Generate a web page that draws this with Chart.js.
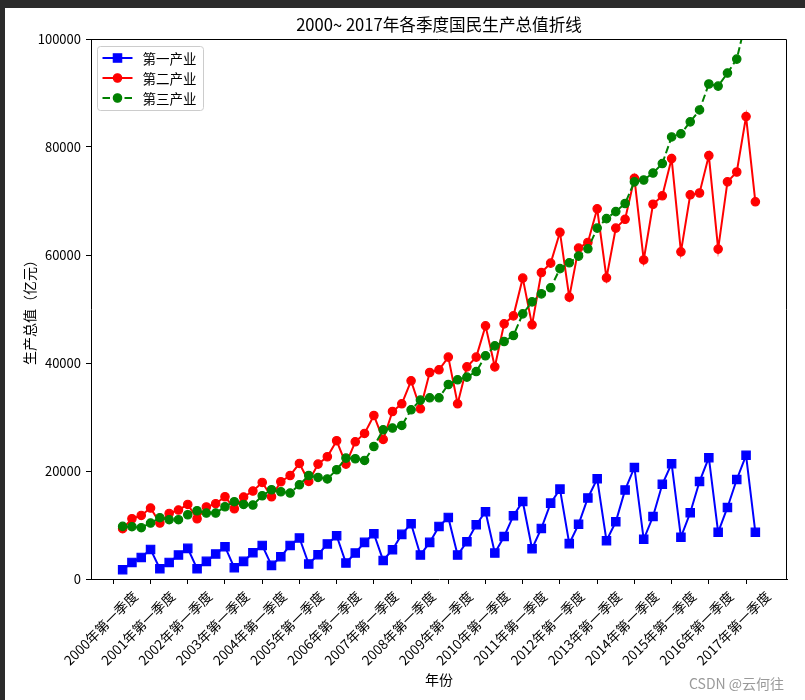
<!DOCTYPE html>
<html>
<head>
<meta charset="utf-8">
<script src="https://cdn.jsdelivr.net/npm/chart.js@4.4.1/dist/chart.umd.min.js"></script>
<style>
  html, body { margin: 0; padding: 0; background: #fff; }
  #wrap { position: relative; width: 805px; height: 700px; overflow: hidden; }
  #frameTop { position: absolute; left: 0; top: 0; width: 805px; height: 8px; background: #2b2b2b; }
  #frameLeft { position: absolute; left: 0; top: 0; width: 5px; height: 700px; background: #2b2b2b; }
  #mark { position: absolute; left: 689px; top: 673px; font: 14px "Noto Sans CJK SC", sans-serif; color: #9a9a9a; }
</style>
</head>
<body>
<div id="wrap">
  <canvas id="gdpChart" width="805" height="700"></canvas>
  <div id="frameTop"></div>
  <div id="frameLeft"></div>
  <div id="mark">CSDN @云何往</div>
</div>
<script>
// x tick labels, one per year (every 4th quarter)
const tickLabels = [
  "2000年第一季度", "2001年第一季度", "2002年第一季度", "2003年第一季度",
  "2004年第一季度", "2005年第一季度", "2006年第一季度", "2007年第一季度",
  "2008年第一季度", "2009年第一季度", "2010年第一季度", "2011年第一季度",
  "2012年第一季度", "2013年第一季度", "2014年第一季度", "2015年第一季度",
  "2016年第一季度", "2017年第一季度"
];
const tickStep = 4;

const chartTitle = "2000~ 2017年各季度国民生产总值折线";
const seriesNames = ["第一产业", "第二产业", "第三产业"];

// quarterly values (亿元), 2000Q1 .. 2017Q1
const primary = [
  1720, 3070, 4000, 5480, 1900, 3070, 4440, 5670, 1900, 3260, 4630, 5980,
  2090, 3260, 4870, 6220, 2520, 4130, 6220, 7590, 2780, 4500, 6500, 8010,
  2960, 4810, 6780, 8380, 3440, 5420, 8260, 10240, 4440, 6780, 9740, 11400,
  4440, 6900, 10050, 12460, 4810, 7880, 11720, 14360, 5610, 9370, 14050, 16640,
  6550, 10120, 15010, 18560, 7090, 10590, 16490, 20650, 7350, 11570, 17530, 21360,
  7740, 12270, 18050, 22470, 8640, 13250, 18430, 22910, 8640
];
const secondary = [
  9310, 11160, 11770, 13140, 10360, 12140, 12770, 13810, 11160, 13330, 13940, 15230,
  13010, 15180, 16290, 17880, 15230, 18010, 19170, 21400, 18060, 21280, 22640, 25600,
  21280, 25410, 26950, 30280, 25840, 31020, 32450, 36700, 31520, 38240, 38740, 41090,
  32450, 39290, 41090, 46880, 39290, 47250, 48730, 55710, 47070, 56750, 58490, 64200,
  52190, 61280, 62320, 68550, 55770, 64980, 66610, 74200, 59080, 69400, 70960, 77850,
  60580, 71150, 71480, 78420, 61090, 73550, 75370, 85640, 69850
];
const tertiary = [
  9740, 9680, 9500, 10360, 11350, 10980, 10980, 11900, 12640, 12210, 12210, 13380,
  14310, 13810, 13700, 15420, 16530, 16160, 15920, 17450, 19170, 18800, 18530, 20230,
  22390, 22270, 21950, 24540, 27630, 27950, 28430, 31330, 33130, 33560, 33560, 36020,
  36890, 37390, 38420, 41330, 43180, 43980, 45090, 49100, 51320, 52800, 53930, 57470,
  58560, 59800, 61150, 64980, 66740, 68040, 69540, 73550, 73890, 75180, 76940, 81860,
  82450, 84660, 86860, 91670, 91280, 93690, 96280, 103500, 101500
];

const yTicks = [0, 20000, 40000, 60000, 80000, 100000];

// quarters are plotted at 1..n, year ticks at 0, 4, 8 ...
const toPoints = (vals) => vals.map((v, i) => ({ x: i + 1, y: v }));
const n = primary.length;
const xPad = (n - 1) * 0.05;

const FONT = '"Noto Sans CJK SC", sans-serif';
Chart.defaults.font.family = FONT;
Chart.defaults.color = "#000";

// top/right spines and the title centred over the axes
const frame = {
  id: "frame",
  afterDatasetsDraw(chart) {
    const { ctx, chartArea: a } = chart;
    ctx.save();
    ctx.strokeStyle = "#000";
    ctx.lineWidth = 1;
    ctx.beginPath();
    ctx.moveTo(a.left, a.top + 0.5);
    ctx.lineTo(a.right - 0.5, a.top + 0.5);
    ctx.lineTo(a.right - 0.5, a.bottom);
    ctx.stroke();

    ctx.fillStyle = "#000";
    ctx.font = "16.6px " + FONT;
    ctx.textAlign = "center";
    ctx.textBaseline = "middle";
    ctx.fillText(chartTitle, (a.left + a.right) / 2, a.top - 14.5);
    ctx.restore();
  },
};

// matplotlib-like legend in the upper left corner
const legendBox = {
  id: "legendBox",
  afterDraw(chart) {
    const { ctx, chartArea } = chart;
    const x = chartArea.left + 6.5;
    const y = chartArea.top + 7.5;
    ctx.save();
    ctx.beginPath();
    ctx.roundRect(x, y, 106, 64, 3);
    ctx.fillStyle = "rgba(255,255,255,0.8)";
    ctx.fill();
    ctx.strokeStyle = "#cccccc";
    ctx.lineWidth = 1;
    ctx.stroke();

    chart.data.datasets.forEach((ds, i) => {
      const cy = y + 11.5 + i * 20;
      ctx.strokeStyle = ds.borderColor;
      ctx.lineWidth = ds.borderWidth;
      ctx.setLineDash(ds.borderDash || []);
      ctx.beginPath();
      ctx.moveTo(x + 5, cy);
      ctx.lineTo(x + 35, cy);
      ctx.stroke();
      ctx.setLineDash([]);

      ctx.fillStyle = ds.backgroundColor;
      ctx.lineWidth = ds.pointBorderWidth;
      ctx.beginPath();
      if (ds.pointStyle === "rect") {
        const s = ds.pointRadius * Math.SQRT1_2;
        ctx.rect(x + 20 - s, cy - s, 2 * s, 2 * s);
      } else {
        ctx.arc(x + 20, cy, ds.pointRadius, 0, Math.PI * 2);
      }
      ctx.fill();
      ctx.stroke();

      ctx.fillStyle = "#000";
      ctx.font = "13.5px " + FONT;
      ctx.textBaseline = "middle";
      ctx.fillText(ds.label, x + 45, cy + 0.5);
    });
    ctx.restore();
  },
};

new Chart(document.getElementById("gdpChart"), {
  type: "line",
  data: {
    datasets: [
      {
        label: seriesNames[0],
        data: toPoints(primary),
        borderColor: "#0000ff",
        backgroundColor: "#0000ff",
        borderWidth: 2,
        pointStyle: "rect",
        pointRadius: 5.9,
        pointBorderWidth: 1.2,
        order: 3,
        clip: 0,
      },
      {
        label: seriesNames[1],
        data: toPoints(secondary),
        borderColor: "#ff0000",
        backgroundColor: "#ff0000",
        borderWidth: 2,
        pointStyle: "circle",
        pointRadius: 4.2,
        pointBorderWidth: 1.2,
        order: 2,
        clip: 0,
      },
      {
        label: seriesNames[2],
        data: toPoints(tertiary),
        borderColor: "#008000",
        backgroundColor: "#008000",
        borderWidth: 2,
        borderDash: [7.5, 3.5],
        pointStyle: "circle",
        pointRadius: 4.2,
        pointBorderWidth: 1.2,
        order: 1,
        clip: 0,
      },
    ],
  },
  options: {
    responsive: false,
    animation: false,
    layout: { padding: { left: 0, right: 18, top: 39, bottom: 0 } },
    plugins: {
      legend: { display: false },
      tooltip: { enabled: false },
    },
    scales: {
      x: {
        type: "linear",
        min: 1 - xPad,
        max: n + xPad,
        afterBuildTicks: (scale) => {
          scale.ticks = tickLabels.map((_, i) => ({ value: i * tickStep }));
        },
        afterFit: (scale) => {
          scale.height = 121;
        },
        ticks: {
          autoSkip: false,
          maxRotation: 45,
          minRotation: 45,
          padding: 4,
          labelOffset: 22,
          color: "#000",
          font: { size: 13.5 },
          callback: (v) => tickLabels[v / tickStep],
        },
        grid: {
          drawOnChartArea: false,
          drawTicks: true,
          tickLength: 5,
          tickColor: "#000",
        },
        border: { color: "#000", width: 1 },
        title: {
          display: true,
          text: "年份",
          color: "#000",
          font: { size: 14 },
          padding: { top: 0, bottom: 11.6 },
        },
      },
      y: {
        min: 0,
        max: 100000,
        afterBuildTicks: (scale) => {
          scale.ticks = yTicks.map((v) => ({ value: v }));
        },
        afterFit: (scale) => {
          scale.width = 91;
        },
        ticks: {
          padding: 5,
          color: "#000",
          font: { size: 13 },
          callback: (v) => String(v),
        },
        grid: {
          drawOnChartArea: false,
          drawTicks: true,
          tickLength: 5,
          tickColor: "#000",
        },
        border: { color: "#000", width: 1 },
        title: {
          display: true,
          text: "生产总值（亿元）",
          color: "#000",
          font: { size: 14 },
          padding: { top: 21.6, bottom: 0 },
        },
      },
    },
  },
  plugins: [frame, legendBox],
});
</script>
</body>
</html>
